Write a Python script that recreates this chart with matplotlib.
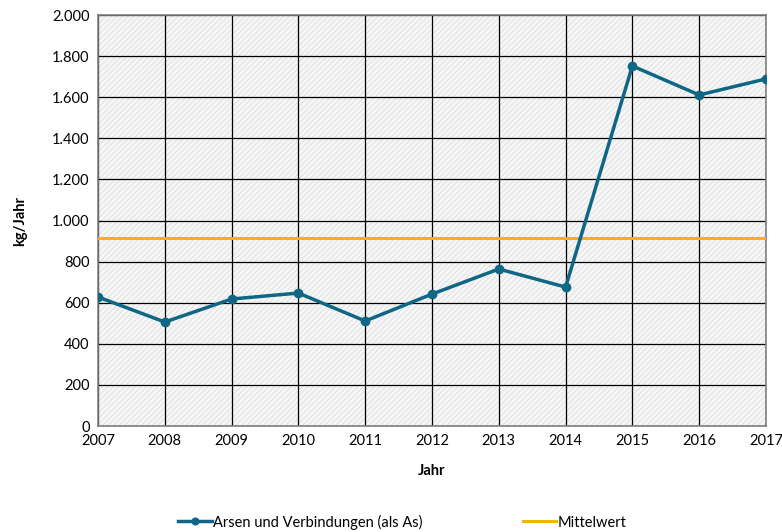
import numpy as np
import matplotlib.pyplot as plt
from matplotlib.patches import Rectangle
from matplotlib.ticker import FuncFormatter, MultipleLocator

years = [2007, 2008, 2009, 2010, 2011, 2012, 2013, 2014, 2015, 2016, 2017]
arsen = [628, 506, 618, 647, 511, 642, 764, 676, 1752, 1611, 1689]
mittelwert = 913

plt.rcParams['font.family'] = ['Lato', 'DejaVu Sans']
plt.rcParams['hatch.linewidth'] = 0.5
plt.rcParams['hatch.color'] = '#dadada'


def de_fmt(v, pos):
    return "{:,.0f}".format(v).replace(",", ".")


def plot_data():
    fig = plt.figure(figsize=(7.82, 5.32), dpi=100)
    ax = fig.add_axes([0.1253, 0.1992, 0.8542, 0.7726])

    ax.set_facecolor('#f6f6f6')
    ax.add_patch(Rectangle((0, 0), 1, 1, transform=ax.transAxes, facecolor='none',
                           edgecolor='#dadada', hatch='//////', linewidth=0, zorder=0))

    ax.plot(years, arsen, '-o', color='#0f6685', linewidth=2.5, markersize=6,
            label="Arsen und Verbindungen (als As)", zorder=4)
    ax.plot([years[0], years[-1]], [mittelwert, mittelwert], '-', color='#f5b400',
            linewidth=2.2, label="Mittelwert", zorder=3)

    ax.set_xlim(2007, 2017)
    ax.set_ylim(0, 2000)
    ax.xaxis.set_major_locator(MultipleLocator(1))
    ax.yaxis.set_major_locator(MultipleLocator(200))
    ax.yaxis.set_major_formatter(FuncFormatter(de_fmt))
    ax.grid(True, color='black', linewidth=0.9, zorder=1)
    ax.set_axisbelow(True)
    for s in ax.spines.values():
        s.set_color('#808080')
        s.set_linewidth(1.2)
    ax.tick_params(length=0, labelsize=10.5, pad=6)

    ax.set_xlabel("Jahr", fontweight='bold', fontsize=10.5, labelpad=11)
    ax.set_ylabel("kg/Jahr", fontweight='bold', fontsize=10.5, labelpad=18)

    fig.legend(loc='lower center', bbox_to_anchor=(0.5145, -0.02), ncol=2, frameon=False,
               fontsize=10.5, columnspacing=6.85, handlelength=2.3, handletextpad=0.1,
               markerscale=0.8)

    fig.savefig("out.png", dpi=100)


def main():
    plot_data()


if __name__ == "__main__":
    main()
